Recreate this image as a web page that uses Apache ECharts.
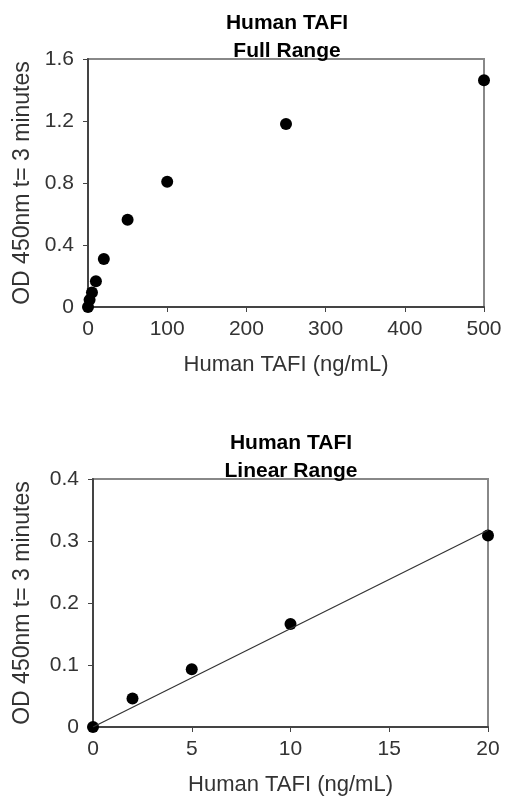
<!DOCTYPE html>
<html>
<head>
<meta charset="utf-8">
<script src="https://cdn.jsdelivr.net/npm/echarts@6/dist/echarts.min.js"></script>
<style>
  html, body { margin: 0; padding: 0; background: #fff; }
  #chart { width: 506px; height: 799px; }
</style>
</head>
<body>
<div id="chart"></div>
<script>
// full range standard curve
const fullConc = [0, 2, 5, 10, 20, 50, 100, 250, 500];
const fullOD = [0, 0.046, 0.093, 0.166, 0.309, 0.563, 0.808, 1.18, 1.463];

// linear range points
const linConc = [0, 2, 5, 10, 20];
const linOD = [0, 0.046, 0.093, 0.166, 0.309];

const yName = 'OD 450nm t= 3 minutes';
const xName = 'Human TAFI (ng/mL)';

// trend line through origin (least squares)
let sxy = 0, sxx = 0;
linConc.forEach((x, i) => { sxy += x * linOD[i]; sxx += x * x; });
const slope = sxy / sxx;
const trend = [[0, 0], [20, slope * 20]];

const font = 'Liberation Sans, Arial, sans-serif';
const txt = '#333';

function xAxis(idx, max, interval) {
	return {
		gridIndex: idx,
		type: 'value',
		min: 0,
		max: max,
		interval: interval,
		name: xName,
		nameLocation: 'middle',
		nameGap: 47,
		nameTextStyle: { fontSize: 22, color: txt, fontFamily: font },
		axisLine: { onZero: false, lineStyle: { color: '#444', width: 2 } },
		axisTick: { show: true, length: 5, lineStyle: { color: '#444' } },
		axisLabel: { fontSize: 21, color: txt, fontFamily: font, margin: 12 },
		splitLine: { show: false }
	};
}
function yAxis(idx, max, interval, gap) {
	return {
		gridIndex: idx,
		type: 'value',
		min: 0,
		max: max,
		interval: interval,
		name: yName,
		nameLocation: 'middle',
		nameGap: gap,
		nameTextStyle: { fontSize: 23, color: txt, fontFamily: font },
		axisLine: { show: true, lineStyle: { color: '#444', width: 2 } },
		axisTick: { show: true, length: 5, lineStyle: { color: '#444' } },
		axisLabel: { fontSize: 21, color: txt, fontFamily: font, margin: 14 },
		splitLine: { show: false }
	};
}

const myChart = echarts.init(document.getElementById('chart'), null, { renderer: 'canvas' });
const option = {
	animation: false,
	title: [
		{
			text: 'Human TAFI\nFull Range',
			left: 282, top: 4, textAlign: 'center',
			textStyle: { fontSize: 21, fontWeight: 'bold', color: '#000', fontFamily: font, lineHeight: 28 }
		},
		{
			text: 'Human TAFI\nLinear Range',
			left: 286, top: 424, textAlign: 'center',
			textStyle: { fontSize: 21, fontWeight: 'bold', color: '#000', fontFamily: font, lineHeight: 28 }
		}
	],
	grid: [
		{ left: 88, top: 59, width: 396, height: 248, show: true, borderColor: '#888', borderWidth: 2 },
		{ left: 93, top: 479, width: 395, height: 248, show: true, borderColor: '#888', borderWidth: 2 }
	],
	xAxis: [xAxis(0, 500, 100), xAxis(1, 20, 5)],
	yAxis: [yAxis(0, 1.6, 0.4, 54), yAxis(1, 0.4, 0.1, 59)],
	series: [
		{
			type: 'scatter', xAxisIndex: 0, yAxisIndex: 0,
			symbolSize: 12,
			itemStyle: { color: '#000', opacity: 1 },
			data: fullConc.map((x, i) => [x, fullOD[i]])
		},
		{
			type: 'line', xAxisIndex: 1, yAxisIndex: 1,
			showSymbol: false,
			lineStyle: { color: '#333', width: 1.2 },
			data: trend
		},
		{
			type: 'scatter', xAxisIndex: 1, yAxisIndex: 1,
			symbolSize: 12,
			itemStyle: { color: '#000', opacity: 1 },
			data: linConc.map((x, i) => [x, linOD[i]])
		}
	]
};
myChart.setOption(option);
</script>
</body>
</html>
